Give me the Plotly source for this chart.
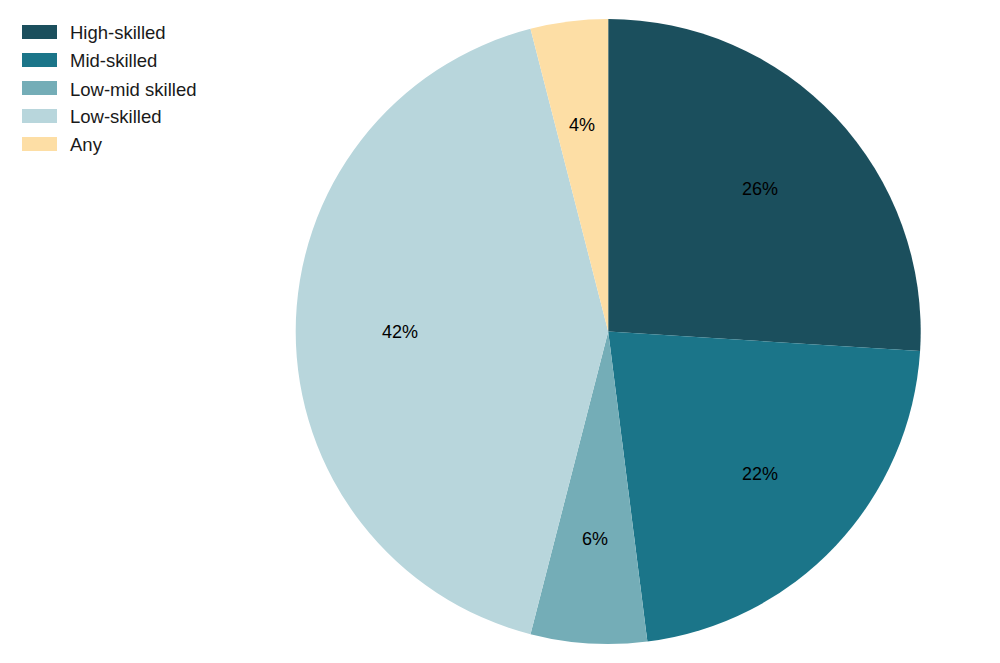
import numpy as np
import plotly.graph_objects as go

labels = ["High-skilled", "Mid-skilled", "Low-mid skilled", "Low-skilled", "Any"]
values = [26, 22, 6, 42, 4]
colors = ["#1b4f5d", "#1b7589", "#74adb7", "#b8d6dc", "#fddea5"]

W, H = 1000, 663
OFF = 8  # page offset of the figure inside the browser window
cx, cy, r = 608.2 - OFF, 331.5 - OFF, 312.5
dom = dict(x=[(cx - r) / W, (cx + r) / W], y=[1 - (cy + r) / H, 1 - (cy - r) / H])
FONT = "Liberation Sans, Arial"

fig = go.Figure(go.Pie(
    labels=labels, values=values, sort=False, direction="clockwise", rotation=0,
    marker=dict(colors=colors, line=dict(width=0)),
    textinfo="none", domain=dom,
    showlegend=False, hoverinfo="label+percent",
))

# percentage labels placed at 2/3 of the radius, at each slice's mid-angle
vals = np.array(values, dtype=float)
share = vals / vals.sum()
mid = np.deg2rad((np.cumsum(share) - share / 2) * 360)
for s, a in zip(share, mid):
    px = cx + (2 / 3) * r * np.sin(a)
    py = cy - (2 / 3) * r * np.cos(a)
    fig.add_annotation(text=f"{s:.0%}", xref="paper", yref="paper",
                       x=px / W, y=1 - py / H, xanchor="center", yanchor="middle",
                       showarrow=False, font=dict(family=FONT, size=18, color="#000000"))

# custom legend built from the labels/colors lists
for i, (lab, col) in enumerate(zip(labels, colors)):
    yc = 32 - OFF + 28 * i
    fig.add_shape(type="rect", xref="paper", yref="paper",
                  x0=(22 - OFF) / W, x1=(57 - OFF) / W, y0=1 - (yc + 7) / H, y1=1 - (yc - 7) / H,
                  fillcolor=col, line=dict(width=0))
    fig.add_annotation(text=lab, xref="paper", yref="paper", x=(68 - OFF) / W, y=1 - (yc + 1) / H,
                       xanchor="left", yanchor="middle", showarrow=False,
                       font=dict(family=FONT, size=18.5, color="#1a1a1a"))

fig.update_layout(width=W, height=H, margin=dict(l=0, r=0, t=0, b=0),
                  paper_bgcolor="white", plot_bgcolor="white")
fig.write_html("out.html")
